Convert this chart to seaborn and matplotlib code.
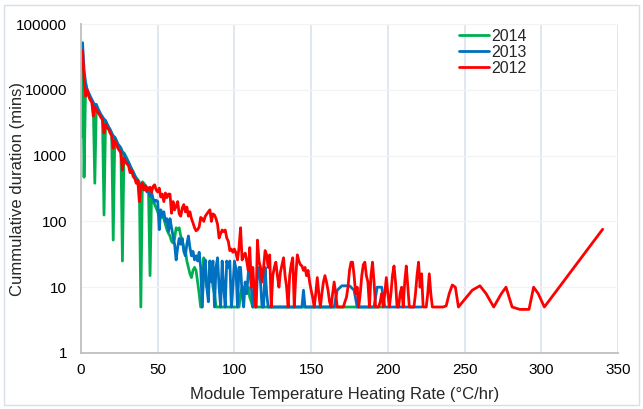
import matplotlib
matplotlib.use("Agg")
import matplotlib.pyplot as plt
from matplotlib.patches import Rectangle
from matplotlib.ticker import FixedLocator, FixedFormatter, NullLocator
import seaborn as sns
import pandas as pd

# ---------------- data ----------------
years = ["2014", "2013", "2012"]
colors = ["#00B050", "#0070C0", "#FF0000"]

g_x = list(range(0, 113)) + [197]
g_y = [1900, 50000, 470, 12000, 10000, 8500, 7500, 6800, 6000, 380,
       5800, 5000, 4500, 4100, 3800, 125, 3400, 3000, 2700, 2400,
       2200, 52, 1900, 1700, 1500, 1400, 1300, 25, 1100, 1000,
       900, 800, 700, 620, 570, 500, 460, 430, 400, 5,
       400, 380, 350, 330, 300, 15, 280, 210, 180, 160,
       140, 120, 115, 118, 110, 90, 75, 66, 60, 50,
       47, 55, 80, 75, 80, 60, 50, 40, 36, 25,
       20, 16, 14, 18, 20, 18, 12, 8, 5, 5,
       28, 15, 10, 10, 25, 20, 10, 8, 5, 5,
       5, 5, 5, 5, 5, 5, 5, 5, 5, 5,
       5, 5, 5, 5, 8, 10, 10, 9, 8, 10,
       7, 6, 5,
       5]

b_x = list(range(0, 123)) + [144, 145, 146, 165, 167, 170, 175, 178, 180,
                             191, 193, 196, 198, 222]
b_y = [40000, 52000, 20000, 13000, 10000, 9000, 8000, 7200, 6500, 5800,
       6000, 5200, 4700, 4200, 3900, 3600, 3400, 3000, 2700, 2500,
       2200, 2000, 1900, 1700, 1500, 1400, 1300, 1150, 1050, 950,
       850, 780, 700, 620, 560, 500, 440, 400, 380, 360,
       330, 350, 310, 280, 300, 240, 260, 220, 200, 210,
       200, 75, 150, 120, 140, 100, 110, 70, 110, 80,
       60, 45, 26, 40, 55, 45, 55, 35, 30, 45,
       60, 40, 30, 35, 26, 30, 25, 34, 20, 5,
       20, 26, 10, 6, 25, 12, 25, 5, 20, 28,
       10, 5, 25, 10, 5, 25, 20, 25, 5, 10,
       25, 19, 5, 20, 20, 8, 5, 12, 8, 16,
       25, 10, 5, 8, 5, 15, 20, 12, 5, 5,
       20, 8, 5,
       5, 9, 5, 5, 9, 10.5, 10.5, 9, 5, 5, 10, 10, 5, 5]

r_x = list(range(0, 230)) + [232, 236, 238, 240, 242, 244, 246, 250, 255,
                             260, 264, 269, 274, 277, 281, 286, 292, 295,
                             298, 302, 340]
r_y = [38000, 40000, 15000, 8000, 10000, 8000, 7000, 6500, 4000, 5500,
       5000, 4500, 4200, 3800, 3500, 2200, 3000, 2700, 2500, 2200,
       2000, 1300, 1700, 1500, 1300, 1200, 1100, 600, 900, 800,
       750, 700, 550, 600, 480, 450, 380, 420, 200, 350,
       380, 300, 350, 290, 320, 330, 280, 340, 360, 300,
       280, 320, 235, 260, 200, 270, 230, 260, 260, 133,
       200, 150, 170, 200, 130, 120, 160, 180, 140, 165,
       120, 140, 110, 95, 80, 72, 75, 82, 115, 110,
       100, 120, 130, 140, 150, 100, 130, 125, 110, 90,
       56, 65, 74, 70, 74, 56, 50, 36, 38, 34,
       38, 33, 26, 40, 80, 26, 30, 33, 25, 18,
       40, 10, 20, 8, 5, 52, 25, 20, 12, 20,
       36, 31, 20, 31, 5, 15, 20, 24, 15, 10,
       17, 22, 28, 15, 10, 5, 15, 22, 28, 5,
       15, 31, 25, 22, 21, 18, 20, 15, 18, 12,
       9, 7, 5, 8, 14, 8, 5, 8, 12, 15,
       12, 9, 6, 5, 8, 12, 8, 5, 5, 5,
       5, 5, 6, 7, 10, 18, 24, 24, 15, 8,
       10, 5, 8, 15, 22, 24, 15, 12, 5, 15,
       24, 12, 5, 5, 5, 6, 8, 5, 8, 14,
       8, 5, 8, 15, 21, 12, 5, 5, 8, 10,
       5, 12, 21, 10, 5, 5, 5, 5, 8, 15,
       24, 10, 16, 5, 5, 5, 8, 16, 8, 5,
       5, 5, 5.2, 8, 10.8, 10, 5, 6.5, 9, 10.5, 8, 5, 8, 10, 5, 4.6, 4.6,
       10, 8, 5, 76]

y_ticks = [1, 10, 100, 1000, 10000, 100000]
y_labels = ["1", "10", "100", "1000", "10000", "100000"]
x_ticks = [0, 50, 100, 150, 200, 250, 300, 350]

# --------------- build frame ----------------
frames = []
for yr, xs, ys in zip(years, [g_x, b_x, r_x], [g_y, b_y, r_y]):
    frames.append(pd.DataFrame({"rate": xs, "dur": ys, "year": yr}))
df = pd.concat(frames, ignore_index=True)

sns.set_theme(style="white")
plt.rcParams["font.family"] = ["Liberation Sans", "DejaVu Sans"]

fig = plt.figure(figsize=(6.43, 4.09), dpi=100)
ax = fig.add_axes([81 / 643, 1 - 353 / 409, (618 - 81) / 643, (353 - 24) / 409])

sns.lineplot(data=df, x="rate", y="dur", hue="year", hue_order=years,
             palette=dict(zip(years, colors)), estimator=None, sort=True,
             linewidth=2.0, ax=ax)

ax.set_yscale("log")
ax.set_ylim(1, 100000)
ax.set_xlim(0, 350)
ax.yaxis.set_major_locator(FixedLocator(y_ticks))
ax.yaxis.set_major_formatter(FixedFormatter(y_labels))
ax.yaxis.set_minor_locator(NullLocator())
ax.set_xticks(x_ticks)
ax.set_xticklabels([str(t) for t in x_ticks])

ax.tick_params(axis="both", length=0, labelsize=11, colors="#000000")
ax.tick_params(axis="y", pad=10)
ax.tick_params(axis="x", pad=7)

ax.grid(False)
for t in x_ticks[1:]:
    ax.axvline(t, color="#DCE3F0", lw=1.2, zorder=0)
for t in y_ticks[1:]:
    ax.axhline(t, color="#F3F3F3", lw=0.9, zorder=0)

for s in ["top", "right"]:
    ax.spines[s].set_visible(False)
for s in ["left", "bottom"]:
    ax.spines[s].set_color("#BFBFBF")
    ax.spines[s].set_linewidth(1.3)

ax.set_xlabel("Module Temperature Heating Rate (°C/hr)", fontsize=12)
ax.xaxis.set_label_coords(0.49, -(395 - 353) / 329)
ax.xaxis.label.set_va("center")
ax.set_ylabel("Cummulative duration (mins)", fontsize=12)
ax.yaxis.set_label_coords(-(81 - 18) / 537, 0.5)
ax.yaxis.label.set_va("center")

leg = ax.legend(loc="upper left", bbox_to_anchor=(459 / 643, 1 - 29 / 409),
                bbox_transform=fig.transFigure, frameon=False, fontsize=11.5,
                handlelength=1.9, handletextpad=0.1, labelspacing=0.06,
                borderpad=0, borderaxespad=0)
for line in leg.get_lines():
    line.set_linewidth(2.0)

fig.patches.append(Rectangle((4 / 643, 4 / 409), 635 / 643, 400 / 409,
                             transform=fig.transFigure, fill=False,
                             edgecolor="#D9DFEA", linewidth=1.0))

fig.savefig("out.png", dpi=100)
